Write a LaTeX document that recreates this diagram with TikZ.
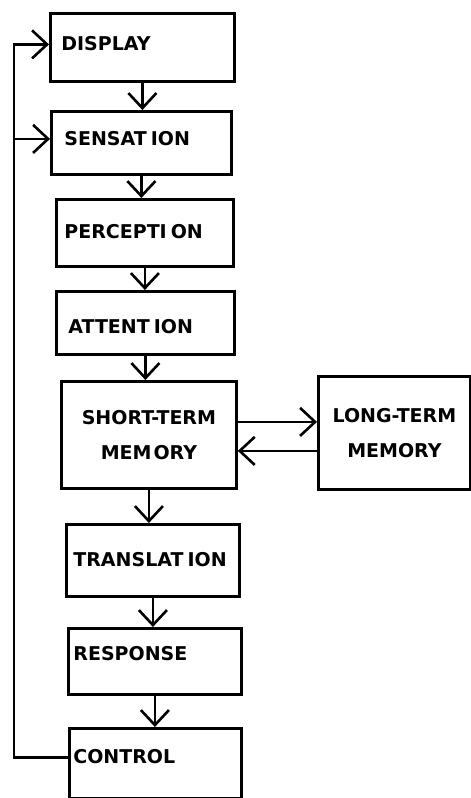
\documentclass[tikz,border=0pt]{standalone}
\usepackage{fontspec}
\usepackage{tikz}
\usetikzlibrary{arrows.meta,positioning,calc}
\newfontfamily\stagefont{DejaVu Sans}
\newcommand{\stagetext}{\stagefont\bfseries\fontsize{19}{35}\selectfont}
\newcommand{\gap}{\kern4pt}

\begin{document}
\begin{tikzpicture}[
  x=1pt, y=-1pt,
  font=\stagetext,
  box/.style={draw, line width=2.8pt, align=left, inner ysep=0pt,
              text width=#1, anchor=north west},
  store/.style={draw, line width=2.8pt, align=center, inner sep=0pt,
                text width=#1, anchor=north west},
  link/.style={-{Straight Barb[length=15pt, width=28pt, line width=2.6pt]},
               line width=2.6pt},
]
\useasboundingbox (0,0) rectangle (471,798);

% ------------------------------------------------------------ stages
\node[box=162pt, inner xsep=11pt, text height=37pt, text depth=31pt] (display) at (49,12) {DISPLAY};
\node[box=154pt, inner xsep=13pt, text height=34pt, text depth=29pt] (sensation) at (50,110) {SENSAT\gap ION};
\node[box=161pt, inner xsep=8pt, text height=39pt, text depth=28pt] (perception) at (55,198) {PERCEPTI\gap ON};
\node[box=154pt, inner xsep=12pt, text height=42pt, text depth=21pt] (attention) at (55,290) {ATTENT\gap ION};
\node[store=175pt, minimum height=107pt] (stm) at (60,380) {SHORT-TERM\\MEM\kern2pt ORY};
\node[box=159pt, inner xsep=7pt, text height=42pt, text depth=30pt] (translation) at (65,523) {TRANSLAT\gap ION};
\node[box=163pt, inner xsep=5pt, text height=32pt, text depth=34pt] (response) at (67,627) {RESPONSE};
\node[box=164pt, inner xsep=4pt, text height=35pt, text depth=35pt] (control) at (68,727) {CONTROL};

% ------------------------------------------------------------ memory
\node[store=152pt, minimum height=113pt] (ltm) at (317,375) {LONG-TERM\\MEMORY};

% ------------------------------------------------------------ flow
\draw[link] (display.south) -- (display.south |- sensation.north);
\draw[link] (sensation.south) -- (sensation.south |- perception.north);
\draw[link] (perception.south) -- (perception.south |- attention.north);
\draw[link] (attention.south) -- (attention.south |- stm.north);
\draw[link] (stm.south) -- (stm.south |- translation.north);
\draw[link] (translation.south) -- (translation.south |- response.north);
\draw[link] (response.south) -- (response.south |- control.north);

\draw[link] ([yshift=13pt]stm.east) -- ([yshift=13pt]stm.east -| ltm.west);
\draw[link] ([yshift=-18pt]ltm.west) -- ([yshift=-18pt]ltm.west -| stm.east);

% ------------------------------------------------------------ feedback
\coordinate (rail) at (14,0);
\draw[link] ([yshift=6pt]control.west) -- ([yshift=6pt]control.west -| rail)
  -- ([yshift=3pt]rail |- display.west) -- ([yshift=3pt]display.west);
\draw[link] ([yshift=4pt]rail |- sensation.west) -- ([yshift=4pt]sensation.west);
\end{tikzpicture}
\end{document}
